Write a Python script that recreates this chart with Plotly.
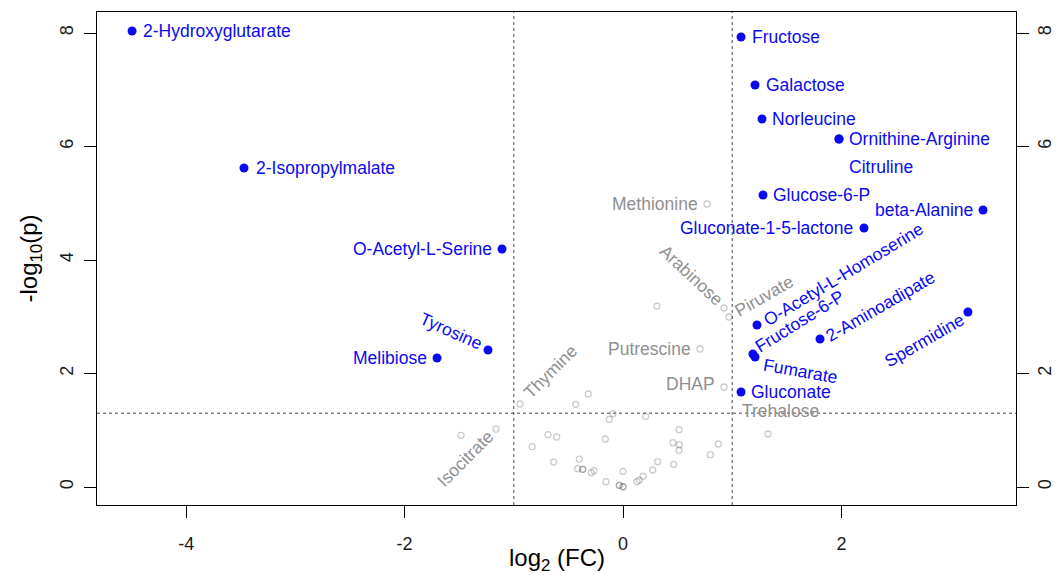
import plotly.graph_objects as go

# ---------------- data ----------------
sig_names = ["2-Hydroxyglutarate", "2-Isopropylmalate", "O-Acetyl-L-Serine", "Tyrosine",
             "Melibiose", "Fructose", "Galactose", "Norleucine", "Ornithine-Arginine",
             "Citruline", "Glucose-6-P", "Gluconate-1-5-lactone", "beta-Alanine",
             "O-Acetyl-L-Homoserine", "Fructose-6-P", "Fumarate", "2-Aminoadipate",
             "Spermidine", "Gluconate"]
sig_fc = [-4.496, -3.471, -1.108, -1.236, -1.703, 1.081, 1.209, 1.273, 1.978, 1.978,
          1.282, 2.207, 3.297, 1.227, 1.190, 1.209, 1.804, 3.159, 1.081]
sig_p = [8.035, 5.621, 4.194, 2.414, 2.273, 7.930, 7.084, 6.485, 6.132, 6.132,
         5.145, 4.564, 4.881, 2.855, 2.344, 2.291, 2.608, 3.084, 1.674]

ns_lab_names = ["Methionine", "Arabinose", "Piruvate", "Putrescine", "DHAP",
                "Trehalose", "Thymine", "Isocitrate"]
ns_lab_fc = [0.769, 0.925, 0.971, 0.705, 0.925, 1.328, -0.943, -1.163]
ns_lab_p = [4.987, 3.154, 2.996, 2.432, 1.762, 0.934, 1.463, 1.022]

ns_fc = [0.311, -0.318, -0.433, -1.483, -0.687, -0.607, -0.831, -0.635, -0.400, -0.415,
         -0.369, -0.369, -0.290, -0.266, -0.162, -0.125, -0.092, -0.156, 0.000, -0.034,
         -0.034, 0.000, 0.000, 0.128, 0.150, 0.183, 0.208, 0.272, 0.317, 0.464, 0.458,
         0.513, 0.516, 0.513, 0.800, 0.873]
ns_p = [3.189, 1.639, 1.457, 0.911, 0.922, 0.881, 0.710, 0.440, 0.493, 0.323,
        0.311, 0.311, 0.252, 0.287, 0.846, 1.192, 1.292, 0.094, 0.276, 0.030,
        0.030, 0.005, 0.005, 0.094, 0.123, 0.188, 1.246, 0.300, 0.446, 0.400, 0.781,
        1.010, 0.746, 0.647, 0.569, 0.758]

fc_cut = [-1, 1]
p_cut = 1.301
x_ticks = [-4, -2, 0, 2]
x_ticklabels = ["-4", "-2", "0", "2"]
y_ticks = [0, 2, 4, 6, 8]
y_ticks_right = [0, 2, 6, 8]

# ---------------- label styles (pixel offsets, angle, anchor) ----------------
sig_style = [
    (9, 0, 0, "left"), (10, 0, 0, "left"), (-8, 0, 0, "right"), (-37, 19, 24, "center"),
    (-8, 0, 0, "right"), (9, 0, 0, "left"), (9, 0, 0, "left"), (8, 0, 0, "left"),
    (8, 0, 0, "left"), (8, -28, 0, "left"), (8, 0, 0, "left"), (-9, 0, 0, "right"),
    (-8, 0, 0, "right"), (87, 51, -31, "center"), (47, 33, -32, "center"),
    (45, -14, 10, "center"), (61, 33, -30, "center"), (-43, -28, -30, "center"),
    (8, 0, 0, "left"),
]
ns_style = [
    (-7, 0, 0, "right"), (-33, 33, 43, "center"), (35, 21, -30, "center"),
    (-7, 0, 0, "right"), (-7, 3, 0, "right"), (12, 23, 0, "center"),
    (30, 32, -45, "center"), (-31, -30, -45, "center"),
]

FONT = "Liberation Sans, Arial, Helvetica, sans-serif"
BLUE = "#0a0af0"
GREY = "#8f8f8f"

fig = go.Figure()

fig.add_trace(go.Scatter(
    x=ns_fc + ns_lab_fc, y=ns_p + ns_lab_p, mode="markers",
    marker=dict(size=6, color="rgba(0,0,0,0)",
                line=dict(color="rgba(70,70,70,0.28)", width=1.3)),
    showlegend=False, hoverinfo="skip"))

fig.add_trace(go.Scatter(
    x=sig_fc, y=sig_p, mode="markers", text=sig_names,
    marker=dict(size=9, color=BLUE, line=dict(width=0)),
    showlegend=False))

# invisible trace to enable right axis
fig.add_trace(go.Scatter(x=[sig_fc[0]], y=[sig_p[0]], yaxis="y2", mode="markers",
                         marker=dict(opacity=0), showlegend=False, hoverinfo="skip"))

annotations = []
for name, x, y, (dx, dy, ang, anc) in zip(sig_names, sig_fc, sig_p, sig_style):
    annotations.append(dict(x=x, y=y, xref="x", yref="y", text=name, showarrow=False,
                            xshift=dx, yshift=dy, textangle=ang, xanchor=anc,
                            yanchor="middle", font=dict(family=FONT, size=17.5, color=BLUE)))
for name, x, y, (dx, dy, ang, anc) in zip(ns_lab_names, ns_lab_fc, ns_lab_p, ns_style):
    annotations.append(dict(x=x, y=y, xref="x", yref="y", text=name, showarrow=False,
                            xshift=dx, yshift=dy, textangle=ang, xanchor=anc,
                            yanchor="middle", font=dict(family=FONT, size=17.5, color=GREY)))

# axis titles
annotations.append(dict(x=0.5, y=0, xref="paper", yref="paper", yshift=-54,
                        text="log<sub>2</sub> (FC)", showarrow=False, xanchor="center",
                        yanchor="middle", font=dict(family=FONT, size=24, color="black")))
annotations.append(dict(x=0, y=0.5, xref="paper", yref="paper", xshift=-67,
                        text="-log<sub>10</sub>(p)", showarrow=False, textangle=-90,
                        xanchor="center", yanchor="middle",
                        font=dict(family=FONT, size=24, color="black")))

shapes = []
for v in fc_cut:
    shapes.append(dict(type="line", xref="x", yref="paper", x0=v, x1=v, y0=0, y1=1,
                       line=dict(color="#444444", width=1, dash="dot")))
shapes.append(dict(type="line", xref="paper", yref="y", x0=0, x1=1, y0=p_cut, y1=p_cut,
                   line=dict(color="#444444", width=1, dash="dot")))

XR = [-4.817, 3.599]
YR = [-0.317, 8.37]
TICKFONT = dict(family=FONT, size=18, color="#1a1a1a")

fig.update_layout(
    width=1054, height=567,
    margin=dict(l=89, r=46, t=4, b=70, autoexpand=False),
    paper_bgcolor="white", plot_bgcolor="white",
    font=dict(family=FONT, size=18, color="#1a1a1a"),
    annotations=annotations, shapes=shapes,
    xaxis=dict(range=XR, tickvals=x_ticks, ticktext=x_ticklabels, ticks="outside",
               ticklen=12, tickwidth=1, tickcolor="black", showline=True,
               linecolor="black", linewidth=1.3, mirror=True, showgrid=False,
               zeroline=False, ticklabelstandoff=10, tickfont=TICKFONT, automargin=False),
    yaxis=dict(range=YR, tickvals=y_ticks, ticks="outside", ticklen=12, tickwidth=1,
               tickcolor="black", showline=True, linecolor="black", linewidth=1.3,
               mirror=True, showgrid=False, zeroline=False, tickangle=-90,
               ticklabelstandoff=4, tickfont=TICKFONT, automargin=False),
    yaxis2=dict(range=YR, tickvals=y_ticks_right, overlaying="y", side="right",
                ticks="outside", ticklen=12, tickwidth=1, tickcolor="black",
                showline=False, showgrid=False, zeroline=False, tickangle=-90,
                ticklabelstandoff=0, tickfont=TICKFONT, automargin=False),
)

fig.write_html("out.html")
